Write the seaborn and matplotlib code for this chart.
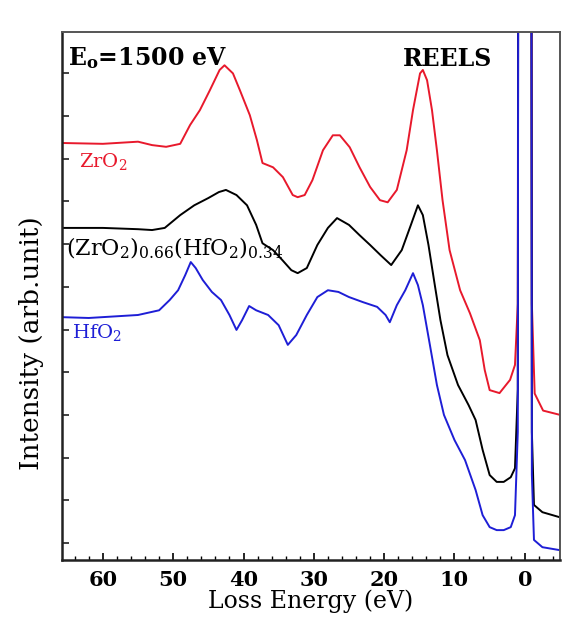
import numpy as np
import pandas as pd
import matplotlib
matplotlib.use('Agg')
import matplotlib.pyplot as plt
from matplotlib.ticker import MultipleLocator, NullFormatter
import seaborn as sns

# loss energy (eV) and intensity (arb. unit, offset stacked)
zro2_E = [66, 60, 55, 53, 51, 49, 47.6, 46.2, 44.8, 43.4, 42.7, 41.5, 40.5, 39.1, 38.1, 37.3,
          35.8, 34.4, 33.0, 32.3, 31.3, 30.2, 28.7, 27.3, 26.3, 24.9, 23.5, 22.0, 20.6, 19.5,
          18.2, 16.8, 15.9, 14.9, 14.5, 13.9, 13.2, 12.5, 11.7, 10.7, 9.2, 7.8, 6.4, 5.7, 5.0,
          3.6, 2.1, 1.4, 1.0, 0.8, -0.8, -1.0, -1.4, -2.6, -5]
zro2_I = [9.77, 9.75, 9.8, 9.72, 9.68, 9.75, 10.19, 10.54, 11.0, 11.48, 11.59, 11.4, 11.0, 10.42,
          9.84, 9.3, 9.2, 8.97, 8.55, 8.5, 8.55, 8.9, 9.6, 9.95, 9.95, 9.67, 9.2, 8.74, 8.43, 8.38,
          8.67, 9.6, 10.54, 11.4, 11.48, 11.24, 10.54, 9.6, 8.43, 7.26, 6.32, 5.78, 5.15, 4.45, 3.98,
          3.91, 4.22, 4.57, 6.0, 40, 40, 6.0, 3.9, 3.5, 3.4]

mix_E = [66, 60, 55, 53, 51.2, 49, 47, 45, 43.5, 42.5, 41, 39.5, 38.2, 37.3, 35.8, 34.5, 33.2,
         32.3, 31, 29.5, 28, 26.7, 25, 23.5, 22, 20.5, 19, 17.5, 16.2, 15.2, 14.5, 13.7, 12.8,
         12, 11, 9.5, 8, 7, 6, 5, 4, 3, 2, 1.4, 1.0, 0.8, -0.8, -1.0, -1.3, -2.5, -5]
mix_I = [7.78, 7.78, 7.75, 7.73, 7.78, 8.08, 8.31, 8.48, 8.62, 8.67, 8.55, 8.31, 7.85, 7.42,
         7.26, 7.03, 6.79, 6.72, 6.84, 7.38, 7.78, 8.01, 7.85, 7.61, 7.38, 7.14, 6.91, 7.26, 7.85,
         8.31, 8.08, 7.38, 6.44, 5.62, 4.8, 4.1, 3.63, 3.28, 2.58, 1.99, 1.83, 1.83, 1.94, 2.15,
         4.0, 40, 40, 3.0, 1.29, 1.12, 1.0]

hfo2_E = [66, 62, 58, 55, 52, 50.5, 49.3, 48.3, 47.5, 46.8, 45.8, 44.5, 43.2, 42, 41, 40.2,
          39.2, 38.2, 36.5, 35, 33.7, 32.5, 31, 29.5, 28, 26.5, 25, 23, 21, 19.8, 19.2, 18.2, 17,
          15.9, 15.2, 14.5, 13.5, 12.5, 11.5, 10, 8.5, 7, 6, 5, 4, 3, 2, 1.4, 1.0, 0.8, -0.8,
          -1.0, -1.3, -2.5, -5]
hfo2_I = [5.69, 5.67, 5.71, 5.74, 5.85, 6.09, 6.32, 6.67, 6.98, 6.84, 6.56, 6.28, 6.09, 5.74,
          5.39, 5.62, 5.95, 5.85, 5.74, 5.5, 5.04, 5.27, 5.74, 6.16, 6.32, 6.28, 6.16, 6.04, 5.93,
          5.74, 5.57, 5.97, 6.32, 6.72, 6.44, 5.97, 5.04, 4.1, 3.4, 2.81, 2.34, 1.64, 1.05, 0.77,
          0.7, 0.7, 0.77, 1.05, 3.0, 40, 40, 2.0, 0.47, 0.3, 0.23]

xticks = [60, 50, 40, 30, 20, 10, 0]

sns.set_style('ticks')
plt.rcParams['font.family'] = ['DejaVu Serif']
plt.rcParams['mathtext.fontset'] = 'dejavuserif'
plt.rcParams['text.color'] = 'black'
plt.rcParams['axes.labelcolor'] = 'black'
plt.rcParams['xtick.color'] = 'black'
plt.rcParams['ytick.color'] = '#222222'

fig = plt.figure(figsize=(5.8, 6.36), dpi=100)
ax = fig.add_axes([0.107, 0.1195, 0.8585, 0.8302])

series = [(zro2_E, zro2_I, '#e8192c'), (mix_E, mix_I, 'black'), (hfo2_E, hfo2_I, '#1e1ed6')]
for E, I, c in series:
    d = pd.DataFrame({'E': E, 'I': I})
    sns.lineplot(data=d, x='E', y='I', sort=False, estimator=None, color=c, lw=1.4, ax=ax)

ax.set_xlim(65.8, -5)
ax.set_ylim(0, 12.37)
ax.set_xticks(xticks)
ax.xaxis.set_minor_locator(MultipleLocator(2))
ax.set_yticks(np.arange(0.4, 12, 1.0))
ax.yaxis.set_major_formatter(NullFormatter())
ax.tick_params(direction='in', which='both', top=False, right=False)
ax.tick_params(axis='x', which='major', length=5, width=1.2, labelsize=15, pad=7)
ax.tick_params(axis='x', which='minor', length=3, width=1.0)
ax.tick_params(axis='y', which='major', length=5, width=1.2)
for lab in ax.get_xticklabels():
    lab.set_fontweight('bold')

for s in ['left', 'bottom']:
    ax.spines[s].set_linewidth(1.8)
    ax.spines[s].set_color('#222222')
for s in ['top', 'right']:
    ax.spines[s].set_linewidth(1.4)
    ax.spines[s].set_color('#555555')

ax.set_xlabel('Loss Energy (eV)', fontsize=17, labelpad=0)
ax.set_ylabel('Intensity (arb.unit)', fontsize=19)
ax.yaxis.set_label_coords(-0.036, 0.41)

ax.text(0.012, 0.975, r'E$_{\mathbf{o}}$=1500 eV', transform=ax.transAxes, fontsize=17,
        fontweight='bold', ha='left', va='top')
ax.text(0.685, 0.972, 'REELS', transform=ax.transAxes, fontsize=17,
        fontweight='bold', ha='left', va='top')
ax.text(0.035, 0.755, r'ZrO$_2$', transform=ax.transAxes, fontsize=14,
        color='#e8192c', ha='left', va='center')
ax.text(0.008, 0.59, r'(ZrO$_2$)$_{0.66}$(HfO$_2$)$_{0.34}$', transform=ax.transAxes,
        fontsize=16, color='black', ha='left', va='center')
ax.text(0.02, 0.43, r'HfO$_2$', transform=ax.transAxes, fontsize=14,
        color='#1e1ed6', ha='left', va='center')

fig.savefig('out.png', dpi=100)
